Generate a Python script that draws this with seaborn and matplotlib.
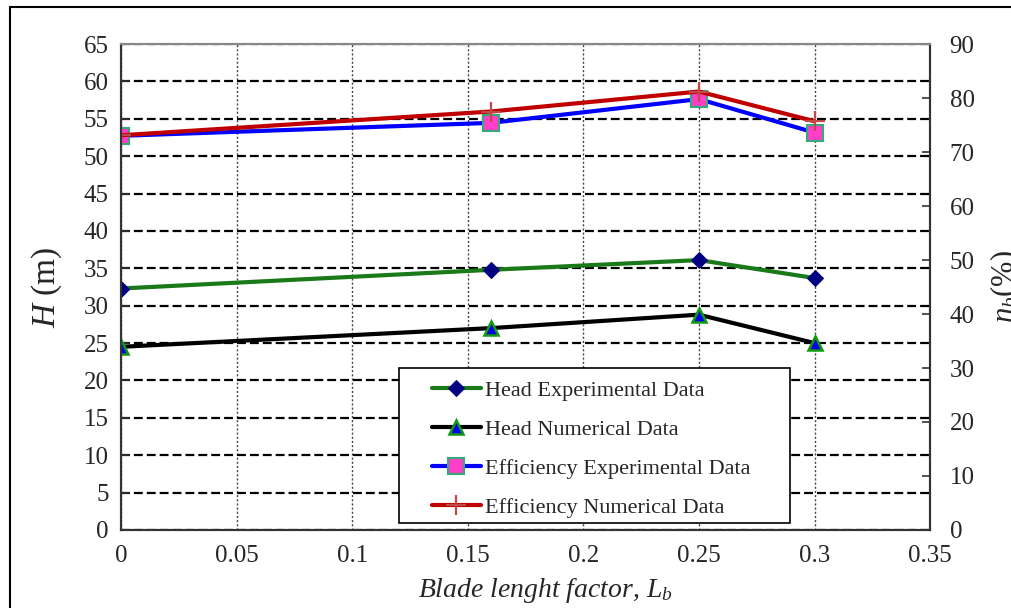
import numpy as np
import pandas as pd
import seaborn as sns
from matplotlib import pyplot as plt
from matplotlib.lines import Line2D
from matplotlib.patches import Rectangle
from matplotlib.ticker import MultipleLocator, FuncFormatter

# data
blade_factor = [0, 0.16, 0.25, 0.3]
head_exp = [32.3, 34.8, 36.1, 33.7]
head_num = [24.5, 27.0, 28.8, 25.0]
eff_exp = [73.0, 75.4, 79.8, 73.6]
eff_num = [73.1, 77.5, 81.2, 75.7]

labels = ['Head Experimental Data', 'Head Numerical Data',
          'Efficiency Experimental Data', 'Efficiency Numerical Data']

df = pd.DataFrame({'Lb': blade_factor, 'head_exp': head_exp, 'head_num': head_num,
                   'eff_exp': eff_exp, 'eff_num': eff_num})

sns.set_style('white')
plt.rcParams['font.family'] = ['Liberation Serif', 'DejaVu Serif']
plt.rcParams['mathtext.fontset'] = 'custom'
plt.rcParams['mathtext.rm'] = 'Liberation Serif'
plt.rcParams['mathtext.it'] = 'Liberation Serif:italic'

fig = plt.figure(figsize=(10.11, 6.08), dpi=100)
ax = fig.add_axes([0.1197, 0.1283, 0.8003, 0.7993])
ax2 = ax.twinx()

# head curves (left axis)
sns.lineplot(data=df, x='Lb', y='head_exp', ax=ax, color='#1a7a1a', lw=3,
             marker='D', ms=8, mfc='#000080', mec='#000080', label=labels[0])
sns.lineplot(data=df, x='Lb', y='head_num', ax=ax, color='black', lw=3,
             marker='^', ms=10, mfc='#0000ee', mec='#119911', mew=1.8, label=labels[1])

# efficiency curves (right axis)
sns.lineplot(data=df, x='Lb', y='eff_exp', ax=ax2, color='#0000ff', lw=3,
             marker='s', ms=11, mfc='#ff3fc8', mec='#33aa77', mew=1.5, label=labels[2])
sns.lineplot(data=df, x='Lb', y='eff_num', ax=ax2, color='#c00000', lw=3,
             marker='+', ms=15, mec='#c04848', mew=1.6, label=labels[3])

ax.set_xlim(0, 0.35)
ax.set_ylim(0, 65)
ax2.set_ylim(0, 90)
ax.xaxis.set_major_locator(MultipleLocator(0.05))
ax.xaxis.set_minor_locator(MultipleLocator(0.01))
ax.xaxis.set_major_formatter(FuncFormatter(lambda v, p: f'{v:g}'))
ax.yaxis.set_major_locator(MultipleLocator(5))
ax2.yaxis.set_major_locator(MultipleLocator(10))

ax.tick_params(axis='both', which='major', direction='in', length=6, width=1.2,
               labelsize=18, pad=9, color='#333333')
ax.tick_params(axis='x', which='minor', direction='in', length=4, width=1, color='#333333')
ax.tick_params(axis='x', pad=11)
ax2.tick_params(axis='y', direction='in', length=6, width=1.2, labelsize=18, pad=14,
                color='#333333')

ax.grid(axis='y', color='black', lw=1.6, ls=(0, (4, 1.8)))
ax.grid(axis='x', color='#444444', lw=1, ls=(0, (1.5, 1.5)))
ax2.grid(False)

for a in (ax, ax2):
    for s in ['left', 'bottom', 'right']:
        a.spines[s].set_color('#333333')
        a.spines[s].set_linewidth(1.5)
    a.spines['top'].set_color('#888888')
    a.spines['top'].set_linewidth(1.5)

ax.set_xlabel('Blade lenght factor, $L_b$', fontsize=20, fontstyle='italic')
ax.xaxis.set_label_coords(0.525, -0.095)
ax.set_ylabel('$H$ (m)', fontsize=24, labelpad=14)
ax2.set_ylabel(r'$\eta_b$(%)', fontsize=22, rotation=90, labelpad=10)

# legend inside a framed box
handles = ax.get_legend().legend_handles + ax2.get_legend().legend_handles
ax.get_legend().remove()
ax2.get_legend().remove()
box = Rectangle((0.344, 0.0144), 0.483, 0.319, transform=ax2.transAxes,
                facecolor='white', edgecolor='black', lw=1.2, zorder=5)
ax2.add_patch(box)
leg = ax2.legend(handles, labels, loc='upper left', bbox_to_anchor=(0.384, 0.308),
                 frameon=False, fontsize=16, handlelength=2.2, handletextpad=0.2,
                 labelspacing=0.83, borderpad=0, borderaxespad=0)
leg.set_zorder(6)

# figure border lines (top and left)
fig.add_artist(Line2D([0.0099, 0.0099], [0, 0.9885], color='black', lw=1.5))
fig.add_artist(Line2D([0.0099, 1], [0.9885, 0.9885], color='black', lw=1.5))

fig.savefig('out.png', dpi=100)
